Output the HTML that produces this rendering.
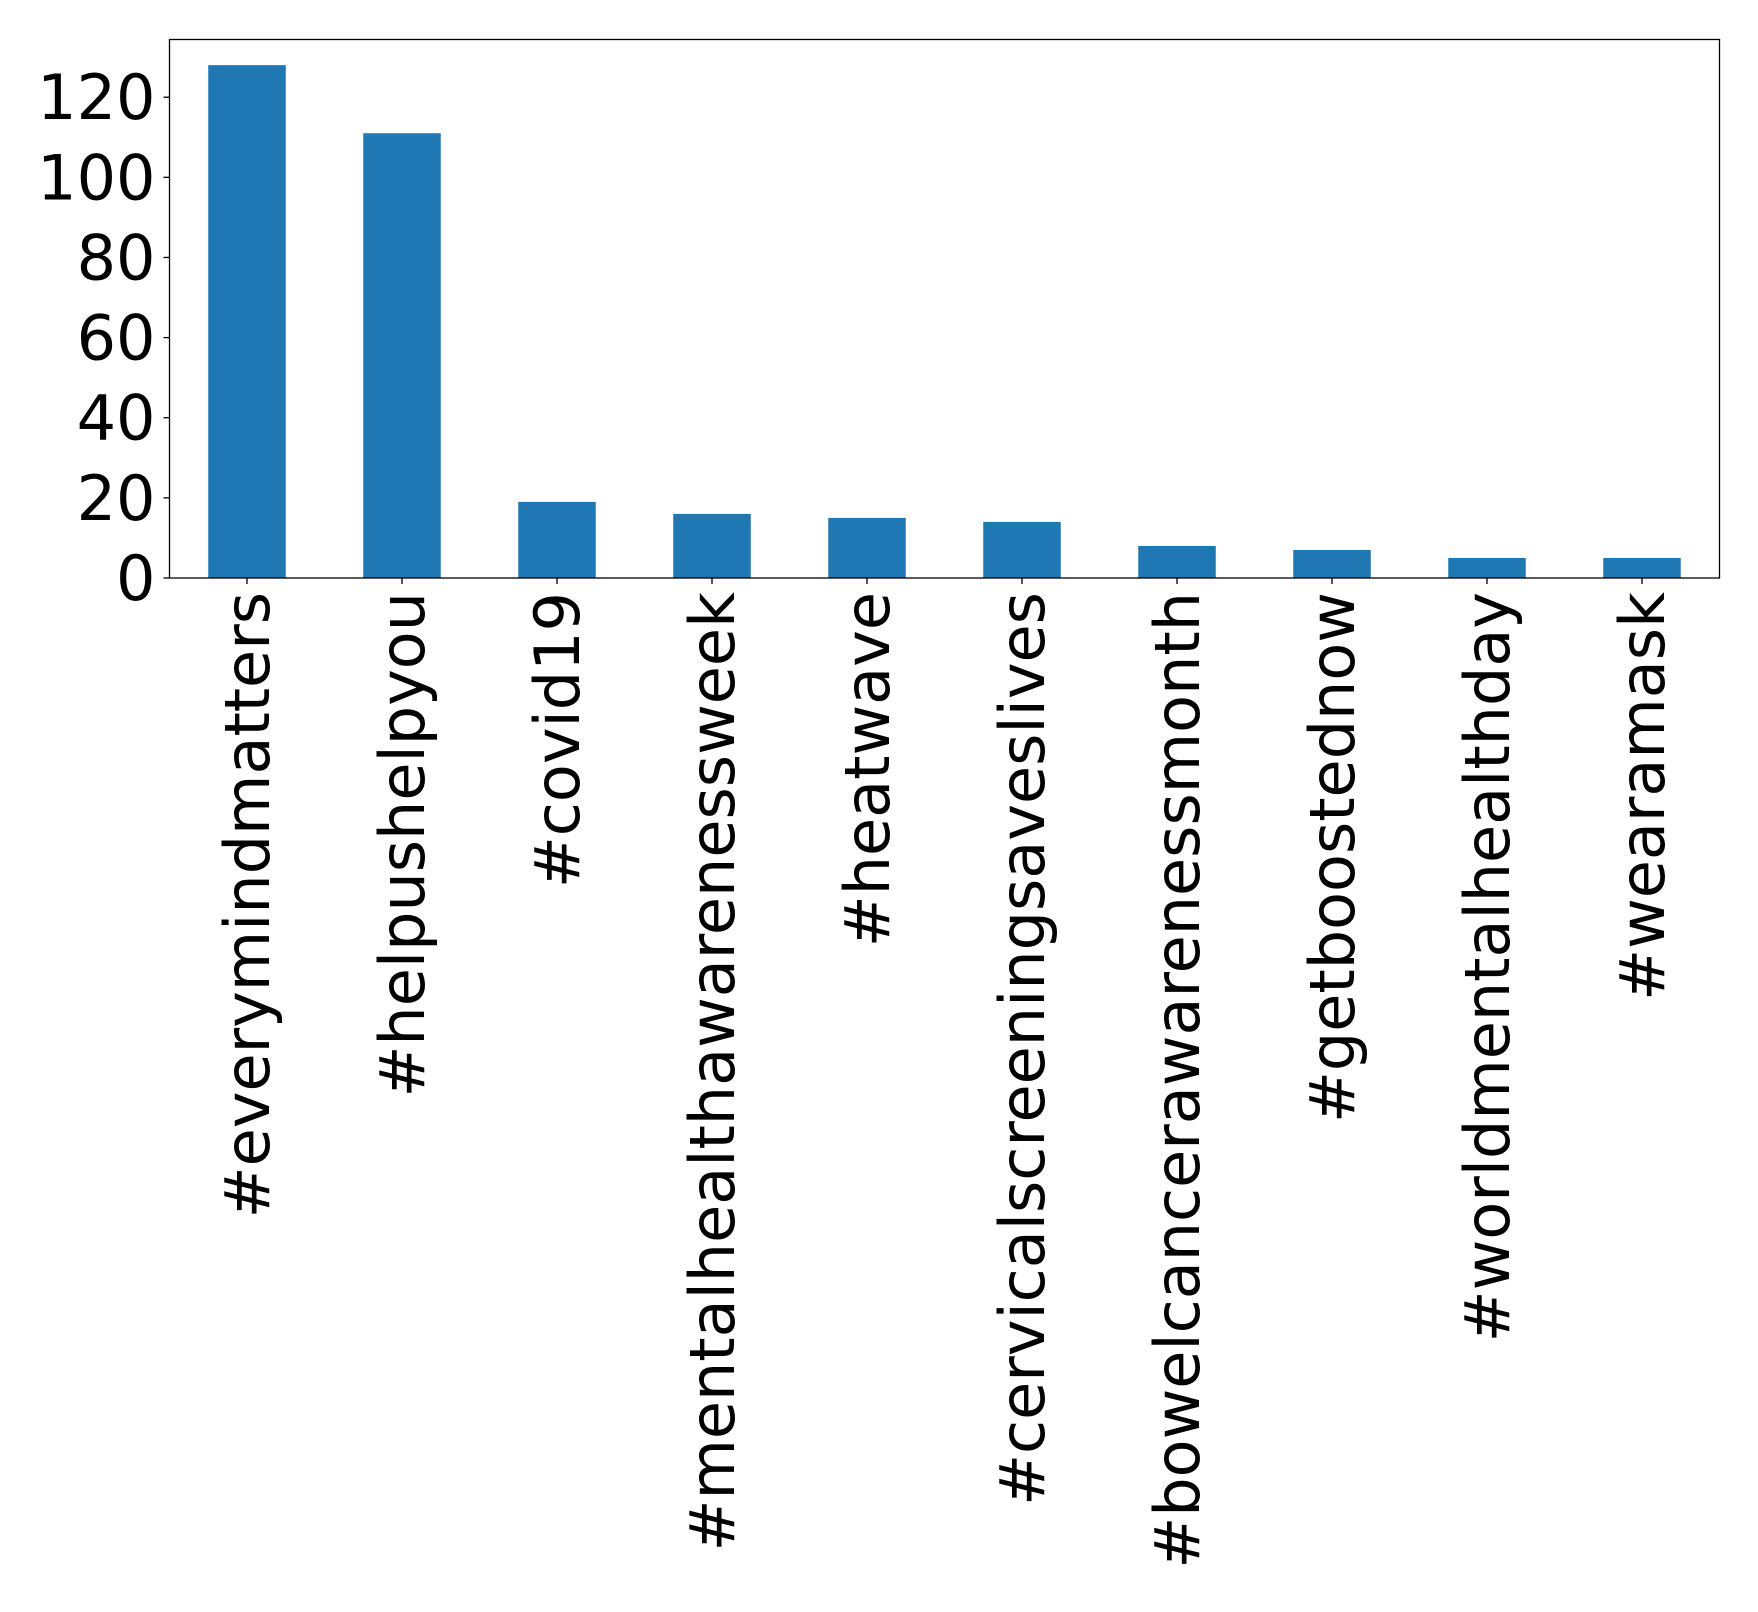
<!DOCTYPE html>
<html><head><meta charset="utf-8"><style>
html,body{margin:0;padding:0;background:#fff;}
svg{display:block;font-family:"DejaVu Sans","Liberation Sans",sans-serif;}
</style></head><body>
<svg id="chart" width="1758" height="1612" viewBox="0 0 1758 1612" xmlns="http://www.w3.org/2000/svg">
<rect x="0" y="0" width="1758" height="1612" fill="#fff"/>
<g id="bars"></g>
<g id="yaxis"></g>
<g id="xaxis"></g>
<rect x="169.5" y="39.5" width="1550" height="538.5" fill="none" stroke="#000" stroke-width="1.3"/>
</svg>
<script>
const categories = ["#everymindmatters","#helpushelpyou","#covid19","#mentalhealthawarenessweek","#heatwave","#cervicalscreeningsaveslives","#bowelcancerawarenessmonth","#getboostednow","#worldmentalhealthday","#wearamask"];
const counts = [128,111,19,16,15,14,8,7,5,5];
const yTicks = [0,20,40,60,80,100,120];

const NS = "http://www.w3.org/2000/svg";
const L = 169.5, R = 1719.5, T = 39.5, B = 578;
const FS = 62;
const yMax = Math.max(...counts) * 1.05;
const band = (R - L) / categories.length;
function xCenter(i){ return L + band * (i + 0.5); }
function yPos(v){ return B - (v / yMax) * (B - T); }

const bars = document.getElementById('bars');
const yaxis = document.getElementById('yaxis');
const xaxis = document.getElementById('xaxis');

counts.forEach((v, i) => {
  const r = document.createElementNS(NS, 'rect');
  
  
  const w = band * 0.5;
  r.setAttribute('x', xCenter(i) - w / 2);
  r.setAttribute('y', yPos(v));
  r.setAttribute('width', w);
  r.setAttribute('height', B - yPos(v));
  r.setAttribute('fill', '#1f77b4');
  bars.appendChild(r);
});

yTicks.forEach(t => {
  const y = yPos(t);
  const ln = document.createElementNS(NS, 'line');
  
  
  ln.setAttribute('x1', L - 6); ln.setAttribute('x2', L);
  ln.setAttribute('y1', y); ln.setAttribute('y2', y);
  ln.setAttribute('stroke', '#000'); ln.setAttribute('stroke-width', '1.3');
  yaxis.appendChild(ln);
  const tx = document.createElementNS(NS, 'text');
  
  
  tx.setAttribute('x', L - 14);
  tx.setAttribute('y', y + 22);
  tx.setAttribute('text-anchor', 'end');
  tx.setAttribute('font-size', FS);
  tx.setAttribute('fill', '#000');
  tx.textContent = t;
  yaxis.appendChild(tx);
});

categories.forEach((c, i) => {
  const x = xCenter(i);
  const ln = document.createElementNS(NS, 'line');
  
  
  ln.setAttribute('x1', x); ln.setAttribute('x2', x);
  ln.setAttribute('y1', B); ln.setAttribute('y2', B + 6);
  ln.setAttribute('stroke', '#000'); ln.setAttribute('stroke-width', '1.3');
  xaxis.appendChild(ln);
  const tx = document.createElementNS(NS, 'text');
  
  
  tx.setAttribute('x', 0);
  tx.setAttribute('y', 22);
  tx.setAttribute('text-anchor', 'end');
  tx.setAttribute('font-size', FS);
  tx.setAttribute('fill', '#000');
  tx.setAttribute('transform', 'translate(' + x + ' ' + (B + 14) + ') rotate(-90)');
  tx.textContent = c;
  xaxis.appendChild(tx);
});
</script>
</body></html>
